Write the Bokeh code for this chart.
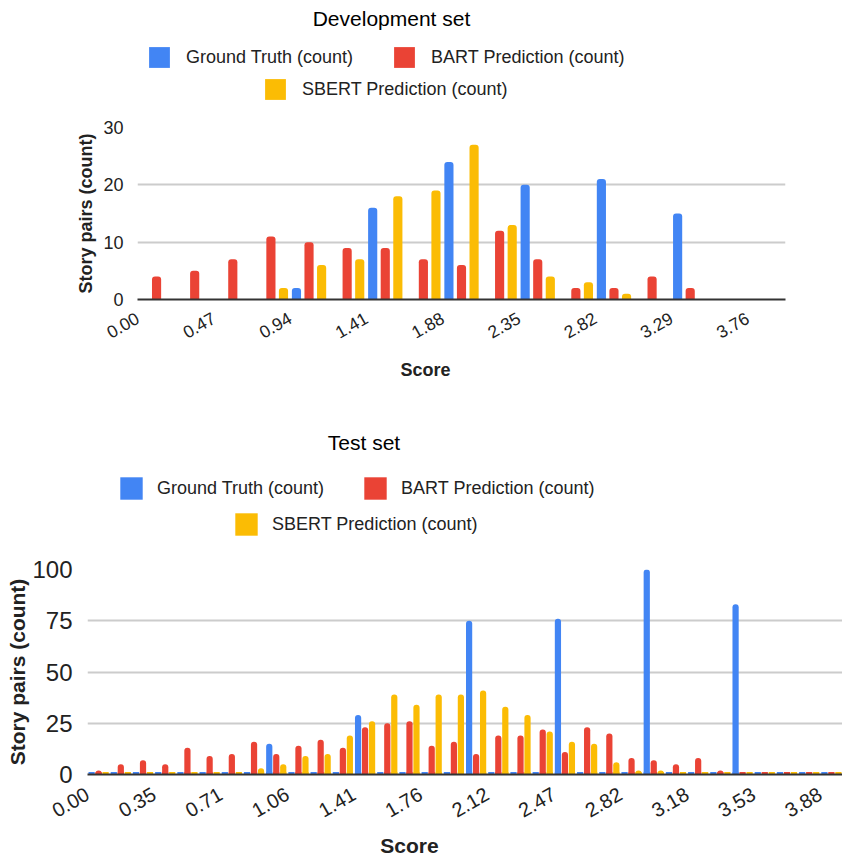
from bokeh.plotting import figure
from bokeh.models import Range1d, FixedTicker, Legend, LegendItem, Label, ColumnDataSource
from bokeh.embed import file_html
from bokeh.resources import INLINE

FONT = "Liberation Sans"
TXT = "#222222"
W = 842
NAN = float("nan")

series_names = ["Ground Truth (count)", "BART Prediction (count)", "SBERT Prediction (count)"]
series_colors = ["#4285F4", "#EA4335", "#FBBC04"]

# ---------------- Development set (17 bins of width 4/17) ----------------
dev_title = "Development set"
dev_bin_count = 17
dev_gt = [0, 0, 0, 0, 2, 0, 16, 0, 24, 0, 20, 0, 21, 0, 15, 0, 0]
dev_bart = [4, 5, 7, 11, 10, 9, 9, 7, 6, 12, 7, 2, 2, 4, 2, 0, 0]
dev_sbert = [0, 0, 0, 2, 6, 7, 18, 19, 27, 13, 4, 3, 1, 0, 0, 0, 0]
dev_tick_labels = ["0.00", "0.47", "0.94", "1.41", "1.88", "2.35", "2.82", "3.29", "3.76"]
dev_y_ticks = [0, 10, 20, 30]

# ---------------- Test set (34 bins of width 2/17) ----------------
test_title = "Test set"
test_bin_count = 34
test_gt = [0, 0, 0, 0, 0, 0, 0, 0, 15, 0, 0, 0, 29, 0, 0, 0, 0, 75, 0, 0, 0, 76, 0, 0,
           0, 100, 0, 0, 0, 83, 0, 0, 0, 0]
test_bart = [2, 5, 7, 5, 13, 9, 10, 16, 10, 14, 17, 13, 23, 25, 26, 14, 16, 10, 19, 19,
             22, 11, 23, 20, 8, 7, 5, 8, 2, 1, 0, 0, 0, 0]
test_sbert = [0, 0, 0, 0, 1, 0, 0, 3, 5, 9, 10, 19, 26, 39, 34, 39, 39, 41, 33, 29,
              21, 16, 15, 6, 2, 2, 0, 0, 0, 0, 0, 0, 0, 0]
test_tick_labels = ["0.00", "0.35", "0.71", "1.06", "1.41", "1.76", "2.12", "2.47",
                    "2.82", "3.18", "3.53", "3.88"]
test_y_ticks = [0, 25, 50, 75, 100]

X_MAX = 4.0


def blank(h):
    """A strip without axes whose frame is the whole strip (1 data unit = 1 px)."""
    f = figure(width=W, height=h, output_backend="svg", toolbar_location=None,
               x_range=Range1d(0, W), y_range=Range1d(0, h),
               x_axis_type=None, y_axis_type=None,
               min_border_left=0, min_border_right=0, min_border_top=0,
               min_border_bottom=0)
    f.outline_line_color = None
    f.background_fill_color = "white"
    f.border_fill_color = "white"
    return f


def add_text(f, x, y, text, size, bold=False, color=TXT):
    f.add_layout(Label(x=x, y=y, text=text, text_align="center", text_baseline="middle",
                       text_font=FONT, text_font_size=size,
                       text_font_style="bold" if bold else "normal", text_color=color))


def add_legend(f, rows_xy, swatch, gap):
    """rows_xy: bottom-left corner of the first swatch in each legend row."""
    area = int(round(swatch / 0.8))   # bokeh insets area legend glyphs by 10% per side
    inset = (area - swatch) / 2
    rends = [f.vbar(x=[NAN], top=[NAN], width=1, fill_color=c, line_color=None)
             for c in series_colors]
    for row, (gx, gy) in zip([[0, 1], [2]], rows_xy):
        items = [LegendItem(label=series_names[k], renderers=[rends[k]]) for k in row]
        f.add_layout(Legend(items=items, orientation="horizontal",
                            location=(int(round(gx - inset)), int(round(gy - inset))),
                            glyph_width=area, glyph_height=area, label_height=area,
                            label_standoff=int(round(gap - inset)),
                            spacing=int(round(40 - inset)),
                            padding=0, margin=0,
                            border_line_alpha=0, background_fill_alpha=0,
                            label_text_font=FONT, label_text_font_size="18px",
                            label_text_color=TXT))


def make_chart(n_bins, series, tick_labels, tick_every, y_ticks, cfg):
    bw = X_MAX / n_bins
    p = figure(width=W, height=cfg["height"], output_backend="svg",
               toolbar_location=None, x_range=Range1d(0, X_MAX),
               y_range=Range1d(0, y_ticks[-1]),
               min_border_left=cfg["bl"], min_border_right=cfg["br"],
               min_border_top=cfg["bt"], min_border_bottom=cfg["bb"])
    p.outline_line_color = None
    p.background_fill_color = "white"
    p.border_fill_color = "white"

    centers = [(i + 0.5) * bw for i in range(n_bins)]
    offsets = [-cfg["off"], 0.0, cfg["off"]]
    for vals, col, off in zip(series, series_colors, offsets):
        src = ColumnDataSource(dict(x=[c + off * bw for c in centers], top=vals))
        p.vbar(x="x", top="top", bottom=0, width=cfg["bar"] * bw, source=src,
               fill_color=col, line_color=None, border_radius=(3, 3, 0, 0))
        if cfg["stubs"]:
            p.rect(x="x", y=0, width=cfg["bar"] * bw, height=5, height_units="screen",
                   source=src, fill_color=col, line_color=None)

    xt = [i * tick_every * bw for i in range(len(tick_labels))]
    p.xaxis.ticker = FixedTicker(ticks=xt)
    p.xaxis.major_label_overrides = {t: l for t, l in zip(xt, tick_labels)}
    p.xaxis.major_label_orientation = 0.52
    p.xaxis.major_label_text_font = FONT
    p.xaxis.major_label_text_font_size = cfg["xtick_fs"]
    p.xaxis.major_label_text_color = TXT
    p.xaxis.major_label_standoff = cfg["xstand"]
    p.xaxis.major_tick_out = 0
    p.xaxis.major_tick_in = 0
    p.xaxis.major_tick_line_color = None
    p.xaxis.minor_tick_line_color = None
    p.xaxis.axis_line_color = "#333333"
    p.xaxis.axis_line_width = 2

    p.yaxis.ticker = FixedTicker(ticks=y_ticks)
    p.yaxis.major_label_text_font = FONT
    p.yaxis.major_label_text_font_size = cfg["ytick_fs"]
    p.yaxis.major_label_text_color = TXT
    p.yaxis.major_label_standoff = cfg["ystand"]
    p.yaxis.major_tick_out = 0
    p.yaxis.major_tick_in = 0
    p.yaxis.major_tick_line_color = None
    p.yaxis.minor_tick_line_color = None
    p.yaxis.axis_line_color = None
    p.yaxis.axis_label = "Story pairs (count)"
    p.yaxis.axis_label_text_font = FONT
    p.yaxis.axis_label_text_font_size = cfg["ytitle_fs"]
    p.yaxis.axis_label_text_font_style = "bold"
    p.yaxis.axis_label_text_color = TXT
    p.yaxis.axis_label_standoff = cfg["ylstand"]

    p.xgrid.grid_line_color = None
    p.ygrid.ticker = FixedTicker(ticks=y_ticks)
    p.ygrid.grid_line_color = "#cccccc"
    p.ygrid.grid_line_width = 2
    return p


# header of the development chart (page y 0..110)
head = blank(110)
add_text(head, 391, 92, dev_title, "21px", color="#000000")
add_legend(head, [(148, 42), (264, 10)], 21, 16)

# development chart (page y 110..355)
dev_cfg = dict(height=245, bl=137, br=57, bt=17, bb=56, off=0.33, bar=0.24, stubs=False,
               xtick_fs="17.5px", ytick_fs="18px", ytitle_fs="18px", xstand=17,
               ystand=14, ylstand=4)
p1 = make_chart(dev_bin_count, [dev_gt, dev_bart, dev_sbert], dev_tick_labels, 2,
                dev_y_ticks, dev_cfg)

# strip between the charts (page y 355..550)
mid = blank(195)
add_text(mid, 425, 181, "Score", "18px", bold=True)
add_text(mid, 363.5, 108, test_title, "21px", color="#000000")
add_legend(mid, [(120, 51), (235, 15)], 22, 15)

# test chart (page y 550..831)
test_cfg = dict(height=281, bl=87, br=0, bt=19, bb=57, off=0.315, bar=0.28, stubs=True,
                xtick_fs="20px", ytick_fs="24px", ytitle_fs="21px", xstand=18,
                ystand=15, ylstand=0)
p2 = make_chart(test_bin_count, [test_gt, test_bart, test_sbert], test_tick_labels, 3,
                test_y_ticks, test_cfg)

# footer (page y 831..857)
foot = blank(26)
add_text(foot, 409, 12, "Score", "21px", bold=True)

open("out.html", "w").write(file_html([head, p1, mid, p2, foot], INLINE))
